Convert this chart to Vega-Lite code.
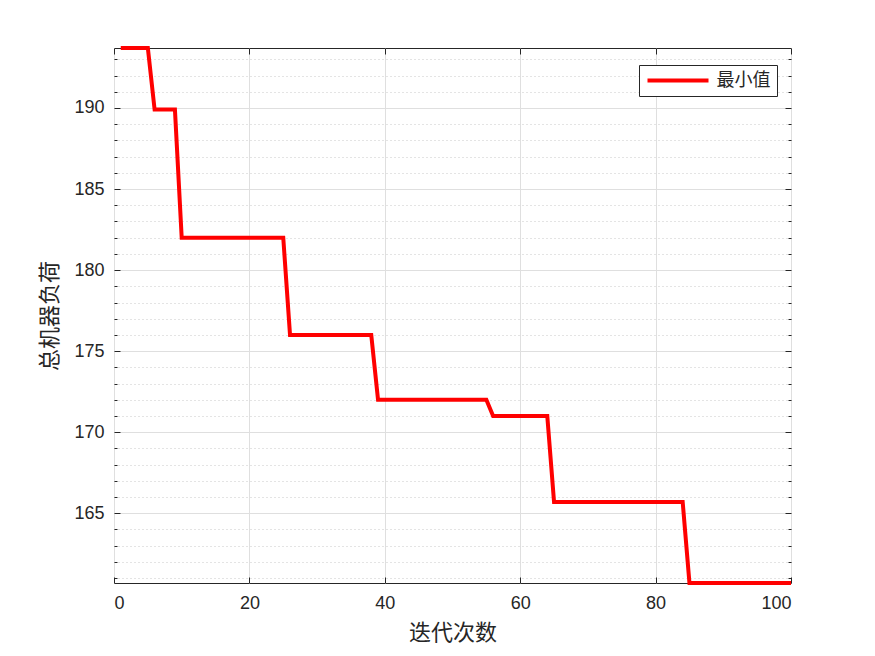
{
  "$schema": "https://vega.github.io/schema/vega-lite/v6.json",
  "width": 677,
  "height": 535,
  "autosize": "none",
  "padding": {"left": 114, "top": 48, "right": 84, "bottom": 73},
  "background": "#ffffff",
  "config": {
    "view": {"stroke": "#262626", "strokeWidth": 1},
    "axis": {"domain": false, "labelColor": "#262626", "titleColor": "#262626", "tickColor": "#262626", "labelFont": "Liberation Sans", "labelFontSize": 18, "titleFont": "Noto Sans CJK SC", "titleFontSize": 22, "titleFontWeight": "normal"}
  },
  "data": {
    "values": [
      {"iter": 1, "value": 193.7}, {"iter": 2, "value": 193.7}, {"iter": 3, "value": 193.7}, {"iter": 4, "value": 193.7}, {"iter": 5, "value": 193.7},
      {"iter": 6, "value": 189.9}, {"iter": 7, "value": 189.9}, {"iter": 8, "value": 189.9}, {"iter": 9, "value": 189.9},
      {"iter": 10, "value": 182.0}, {"iter": 11, "value": 182.0}, {"iter": 12, "value": 182.0}, {"iter": 13, "value": 182.0}, {"iter": 14, "value": 182.0}, {"iter": 15, "value": 182.0}, {"iter": 16, "value": 182.0}, {"iter": 17, "value": 182.0}, {"iter": 18, "value": 182.0}, {"iter": 19, "value": 182.0}, {"iter": 20, "value": 182.0}, {"iter": 21, "value": 182.0}, {"iter": 22, "value": 182.0}, {"iter": 23, "value": 182.0}, {"iter": 24, "value": 182.0}, {"iter": 25, "value": 182.0},
      {"iter": 26, "value": 176.0}, {"iter": 27, "value": 176.0}, {"iter": 28, "value": 176.0}, {"iter": 29, "value": 176.0}, {"iter": 30, "value": 176.0}, {"iter": 31, "value": 176.0}, {"iter": 32, "value": 176.0}, {"iter": 33, "value": 176.0}, {"iter": 34, "value": 176.0}, {"iter": 35, "value": 176.0}, {"iter": 36, "value": 176.0}, {"iter": 37, "value": 176.0}, {"iter": 38, "value": 176.0},
      {"iter": 39, "value": 172.0}, {"iter": 40, "value": 172.0}, {"iter": 41, "value": 172.0}, {"iter": 42, "value": 172.0}, {"iter": 43, "value": 172.0}, {"iter": 44, "value": 172.0}, {"iter": 45, "value": 172.0}, {"iter": 46, "value": 172.0}, {"iter": 47, "value": 172.0}, {"iter": 48, "value": 172.0}, {"iter": 49, "value": 172.0}, {"iter": 50, "value": 172.0}, {"iter": 51, "value": 172.0}, {"iter": 52, "value": 172.0}, {"iter": 53, "value": 172.0}, {"iter": 54, "value": 172.0}, {"iter": 55, "value": 172.0},
      {"iter": 56, "value": 171.0}, {"iter": 57, "value": 171.0}, {"iter": 58, "value": 171.0}, {"iter": 59, "value": 171.0}, {"iter": 60, "value": 171.0}, {"iter": 61, "value": 171.0}, {"iter": 62, "value": 171.0}, {"iter": 63, "value": 171.0}, {"iter": 64, "value": 171.0},
      {"iter": 65, "value": 165.7}, {"iter": 66, "value": 165.7}, {"iter": 67, "value": 165.7}, {"iter": 68, "value": 165.7}, {"iter": 69, "value": 165.7}, {"iter": 70, "value": 165.7}, {"iter": 71, "value": 165.7}, {"iter": 72, "value": 165.7}, {"iter": 73, "value": 165.7}, {"iter": 74, "value": 165.7}, {"iter": 75, "value": 165.7}, {"iter": 76, "value": 165.7}, {"iter": 77, "value": 165.7}, {"iter": 78, "value": 165.7}, {"iter": 79, "value": 165.7}, {"iter": 80, "value": 165.7}, {"iter": 81, "value": 165.7}, {"iter": 82, "value": 165.7}, {"iter": 83, "value": 165.7}, {"iter": 84, "value": 165.7},
      {"iter": 85, "value": 160.7}, {"iter": 86, "value": 160.7}, {"iter": 87, "value": 160.7}, {"iter": 88, "value": 160.7}, {"iter": 89, "value": 160.7}, {"iter": 90, "value": 160.7}, {"iter": 91, "value": 160.7}, {"iter": 92, "value": 160.7}, {"iter": 93, "value": 160.7}, {"iter": 94, "value": 160.7}, {"iter": 95, "value": 160.7}, {"iter": 96, "value": 160.7}, {"iter": 97, "value": 160.7}, {"iter": 98, "value": 160.7}, {"iter": 99, "value": 160.7}, {"iter": 100, "value": 160.7}
    ]
  },
  "layer": [
    {
      "mark": {"type": "line", "opacity": 0},
      "encoding": {
        "x": {"field": "iter", "type": "quantitative", "scale": {"domain": [0, 100], "nice": false, "zero": false},
          "axis": {"orient": "bottom", "values": [0, 20, 40, 60, 80, 100], "grid": true, "gridColor": "#dfdfdf", "gridWidth": 1, "ticks": false, "labelPadding": 11, "title": "迭代次数", "titlePadding": 10}},
        "y": {"field": "value", "type": "quantitative", "scale": {"domain": [160.7, 193.7], "nice": false, "zero": false},
          "axis": {"orient": "left", "values": [165, 170, 175, 180, 185, 190], "grid": true, "gridColor": "#dfdfdf", "gridWidth": 1, "ticks": false, "labelPadding": 10, "title": "总机器负荷", "titlePadding": 12}}
      }
    },
    {
      "mark": {"type": "line", "opacity": 0},
      "encoding": {
        "x": {"field": "iter", "type": "quantitative", "scale": {"domain": [0, 100], "nice": false, "zero": false},
          "axis": {"orient": "top", "values": [0, 20, 40, 60, 80, 100], "grid": false, "labels": false, "ticks": true, "tickSize": -6, "title": null}},
        "y": {"field": "value", "type": "quantitative", "scale": {"domain": [160.7, 193.7], "nice": false, "zero": false},
          "axis": {"orient": "left", "values": [161, 162, 163, 164, 166, 167, 168, 169, 171, 172, 173, 174, 176, 177, 178, 179, 181, 182, 183, 184, 186, 187, 188, 189, 191, 192, 193], "grid": true, "gridColor": "#c8c8c8", "gridDash": [1, 3], "gridWidth": 1, "labels": false, "ticks": true, "tickSize": -3, "title": null}}
      }
    },
    {
      "mark": {"type": "line", "opacity": 0},
      "encoding": {
        "x": {"field": "iter", "type": "quantitative", "scale": {"domain": [0, 100], "nice": false, "zero": false},
          "axis": {"orient": "bottom", "values": [0, 20, 40, 60, 80, 100], "grid": false, "labels": false, "ticks": true, "tickSize": -6, "title": null}},
        "y": {"field": "value", "type": "quantitative", "scale": {"domain": [160.7, 193.7], "nice": false, "zero": false},
          "axis": {"orient": "right", "values": [161, 162, 163, 164, 166, 167, 168, 169, 171, 172, 173, 174, 176, 177, 178, 179, 181, 182, 183, 184, 186, 187, 188, 189, 191, 192, 193], "grid": false, "labels": false, "ticks": true, "tickSize": -3, "title": null}}
      }
    },
    {
      "mark": {"type": "line", "opacity": 0},
      "encoding": {
        "x": {"field": "iter", "type": "quantitative", "scale": {"domain": [0, 100], "nice": false, "zero": false}, "axis": null},
        "y": {"field": "value", "type": "quantitative", "scale": {"domain": [160.7, 193.7], "nice": false, "zero": false},
          "axis": {"orient": "right", "values": [165, 170, 175, 180, 185, 190], "grid": false, "labels": false, "ticks": true, "tickSize": -6, "title": null}}
      }
    },
    {
      "mark": {"type": "line", "opacity": 0},
      "encoding": {
        "x": {"field": "iter", "type": "quantitative", "scale": {"domain": [0, 100], "nice": false, "zero": false}, "axis": null},
        "y": {"field": "value", "type": "quantitative", "scale": {"domain": [160.7, 193.7], "nice": false, "zero": false},
          "axis": {"orient": "left", "values": [165, 170, 175, 180, 185, 190], "grid": false, "labels": false, "ticks": true, "tickSize": -6, "title": null}}
      }
    },
    {
      "mark": {"type": "line", "strokeWidth": 4, "strokeJoin": "miter", "strokeCap": "butt"},
      "encoding": {
        "x": {"field": "iter", "type": "quantitative", "scale": {"domain": [0, 100], "nice": false, "zero": false}, "axis": null},
        "y": {"field": "value", "type": "quantitative", "scale": {"domain": [160.7, 193.7], "nice": false, "zero": false}, "axis": null},
        "color": {"datum": "最小值", "type": "nominal", "scale": {"range": ["#ff0000"]},
          "legend": {"title": null, "orient": "none", "legendX": 525, "legendY": 17, "direction": "vertical", "symbolType": "stroke", "symbolSize": 3721, "symbolStrokeWidth": 4, "clipHeight": 18, "labelFont": "Noto Sans CJK SC", "labelFontSize": 18, "labelColor": "#262626", "labelOffset": 6, "padding": 6.5, "strokeColor": "#262626", "fillColor": "#ffffff", "cornerRadius": 0}}
      }
    }
  ],
  "resolve": {"axis": {"x": "independent", "y": "independent"}}
}
